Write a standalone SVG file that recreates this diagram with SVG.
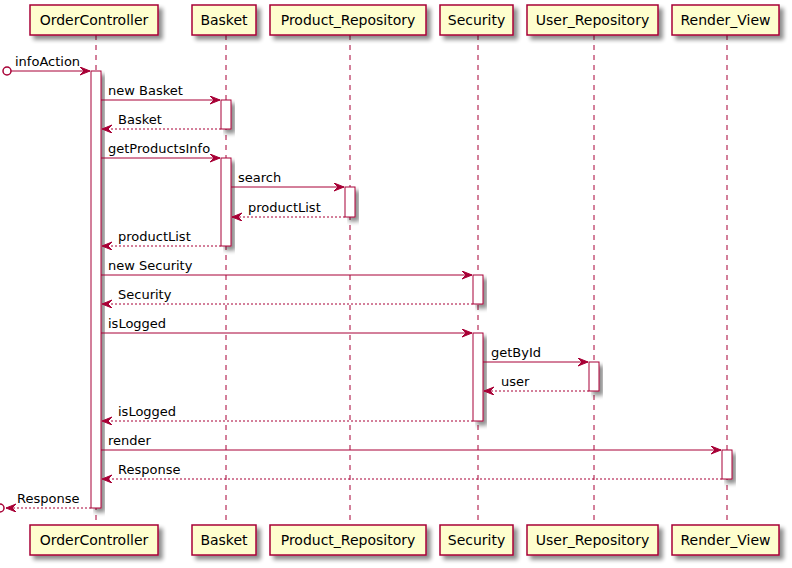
<svg xmlns="http://www.w3.org/2000/svg" width="792" height="568" viewBox="0 0 792 568">
<defs>
<filter id="sh" x="-20%" y="-20%" width="160%" height="160%">
<feGaussianBlur in="SourceAlpha" stdDeviation="2" result="b"/>
<feOffset in="b" dx="4" dy="4" result="o"/>
<feComponentTransfer in="o" result="o2"><feFuncA type="linear" slope="0.45"/></feComponentTransfer>
<feMerge><feMergeNode in="o2"/><feMergeNode in="SourceGraphic"/></feMerge>
</filter>
<marker id="ah" markerUnits="userSpaceOnUse" markerWidth="12" markerHeight="10" refX="10" refY="4" orient="auto">
<path d="M0,0 L10,4 L0,8 L4,4 Z" fill="#A80036" stroke="#A80036" stroke-width="1"/>
</marker>
</defs>
<style>
.life{stroke:#A80036;stroke-width:1;stroke-dasharray:5,5;fill:none}
.pbox{fill:#FEFECE;stroke:#A80036;stroke-width:1.5;filter:url(#sh)}
.ptxt{font-family:"DejaVu Sans",sans-serif;font-size:14px;fill:#000;text-anchor:middle}
.act{fill:#FFFFFF;stroke:#A80036;stroke-width:1;filter:url(#sh)}
.msg{stroke:#A80036;stroke-width:1;fill:none;marker-end:url(#ah)}
.ret{stroke:#A80036;stroke-width:1;fill:none;stroke-dasharray:2,2;marker-end:url(#ah)}
.mtxt{font-family:"DejaVu Sans",sans-serif;font-size:13px;fill:#000}
.circ{fill:#FFFFFF;stroke:#A80036;stroke-width:1.5}
</style>
<rect width="792" height="568" fill="#FFFFFF"/>
<g id="lifelines">
<line class="life" x1="96" y1="35" x2="96" y2="525"/>
<line class="life" x1="226" y1="35" x2="226" y2="525"/>
<line class="life" x1="350" y1="35" x2="350" y2="525"/>
<line class="life" x1="478" y1="35" x2="478" y2="525"/>
<line class="life" x1="594" y1="35" x2="594" y2="525"/>
<line class="life" x1="727" y1="35" x2="727" y2="525"/>
</g>
<g id="OrderController">
<rect class="pbox" x="30" y="5" width="128" height="30"/>
<text class="ptxt" x="94" y="25">OrderController</text>
<rect class="pbox" x="30" y="525" width="128" height="30"/>
<text class="ptxt" x="94" y="545">OrderController</text>
</g>
<g id="Basket">
<rect class="pbox" x="192" y="5" width="64" height="30"/>
<text class="ptxt" x="224" y="25">Basket</text>
<rect class="pbox" x="192" y="525" width="64" height="30"/>
<text class="ptxt" x="224" y="545">Basket</text>
</g>
<g id="Product_Repository">
<rect class="pbox" x="270" y="5" width="156" height="30"/>
<text class="ptxt" x="348" y="25">Product_Repository</text>
<rect class="pbox" x="270" y="525" width="156" height="30"/>
<text class="ptxt" x="348" y="545">Product_Repository</text>
</g>
<g id="Security">
<rect class="pbox" x="440" y="5" width="73" height="30"/>
<text class="ptxt" x="476.5" y="25">Security</text>
<rect class="pbox" x="440" y="525" width="73" height="30"/>
<text class="ptxt" x="476.5" y="545">Security</text>
</g>
<g id="User_Repository">
<rect class="pbox" x="527" y="5" width="131" height="30"/>
<text class="ptxt" x="592.5" y="25">User_Repository</text>
<rect class="pbox" x="527" y="525" width="131" height="30"/>
<text class="ptxt" x="592.5" y="545">User_Repository</text>
</g>
<g id="Render_View">
<rect class="pbox" x="672" y="5" width="107" height="30"/>
<text class="ptxt" x="725.5" y="25">Render_View</text>
<rect class="pbox" x="672" y="525" width="107" height="30"/>
<text class="ptxt" x="725.5" y="545">Render_View</text>
</g>
<g id="activations">
<rect class="act" x="91" y="71" width="10" height="437"/>
<rect class="act" x="221" y="100" width="10" height="29"/>
<rect class="act" x="221" y="158" width="10" height="88"/>
<rect class="act" x="345" y="187" width="10" height="30"/>
<rect class="act" x="473" y="275" width="10" height="29"/>
<rect class="act" x="473" y="333" width="10" height="88"/>
<rect class="act" x="589" y="362" width="10" height="29"/>
<rect class="act" x="722" y="450" width="10" height="29"/>
</g>
<g id="connectors">
<line class="msg" x1="11" y1="71" x2="90" y2="71"/>
<circle class="circ" cx="7" cy="71" r="4"/>
<line class="msg" x1="101" y1="100" x2="220" y2="100"/>
<line class="ret" x1="221" y1="129" x2="102" y2="129"/>
<line class="msg" x1="101" y1="158" x2="220" y2="158"/>
<line class="msg" x1="231" y1="187" x2="344" y2="187"/>
<line class="ret" x1="345" y1="217" x2="232" y2="217"/>
<line class="ret" x1="221" y1="246" x2="102" y2="246"/>
<line class="msg" x1="101" y1="275" x2="472" y2="275"/>
<line class="ret" x1="473" y1="304" x2="102" y2="304"/>
<line class="msg" x1="101" y1="333" x2="472" y2="333"/>
<line class="msg" x1="483" y1="362" x2="588" y2="362"/>
<line class="ret" x1="589" y1="391" x2="484" y2="391"/>
<line class="ret" x1="473" y1="421" x2="102" y2="421"/>
<line class="msg" x1="101" y1="450" x2="721" y2="450"/>
<line class="ret" x1="722" y1="479" x2="102" y2="479"/>
<line class="ret" x1="91" y1="508" x2="6" y2="508"/>
<circle class="circ" cx="0" cy="508" r="4"/>
</g>
<g id="labels">
<text class="mtxt" x="15" y="66">infoAction</text>
<text class="mtxt" x="108" y="95">new Basket</text>
<text class="mtxt" x="118" y="124">Basket</text>
<text class="mtxt" x="108" y="153">getProductsInfo</text>
<text class="mtxt" x="238" y="182">search</text>
<text class="mtxt" x="248" y="212">productList</text>
<text class="mtxt" x="118" y="241">productList</text>
<text class="mtxt" x="108" y="270">new Security</text>
<text class="mtxt" x="118" y="299">Security</text>
<text class="mtxt" x="108" y="328">isLogged</text>
<text class="mtxt" x="491" y="357">getById</text>
<text class="mtxt" x="501" y="386">user</text>
<text class="mtxt" x="118" y="416">isLogged</text>
<text class="mtxt" x="108" y="445">render</text>
<text class="mtxt" x="118" y="474">Response</text>
<text class="mtxt" x="17" y="503">Response</text>
</g>
</svg>
